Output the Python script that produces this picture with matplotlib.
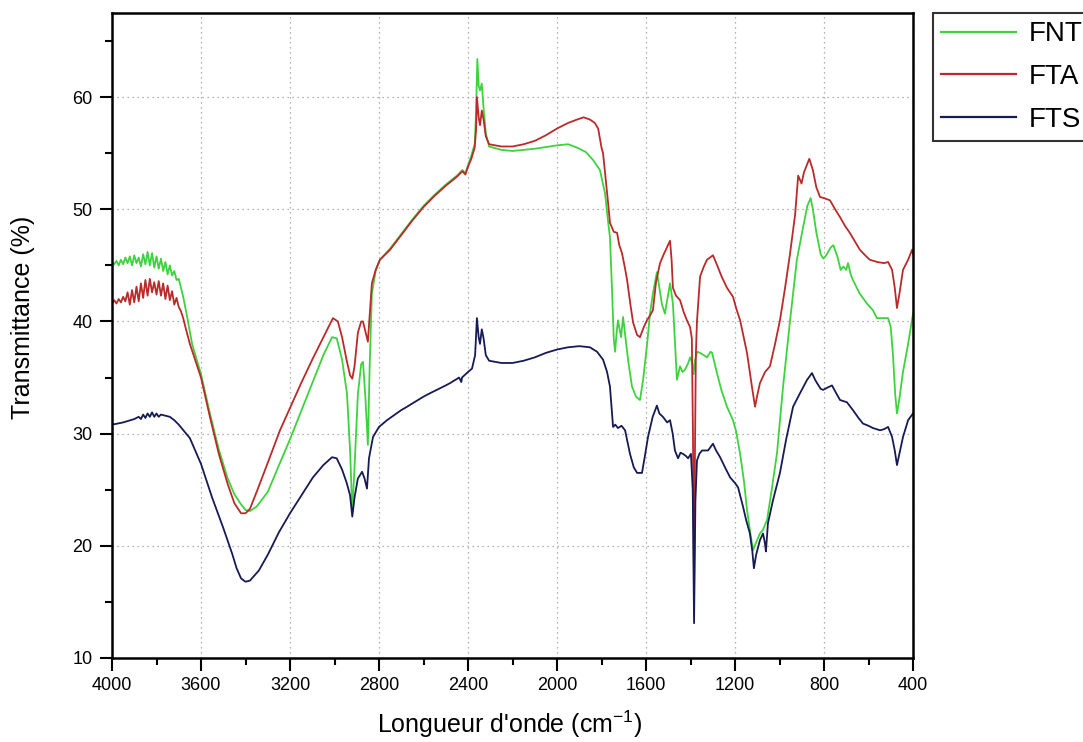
import matplotlib
matplotlib.use('Agg')
import matplotlib.pyplot as plt
from matplotlib.ticker import MultipleLocator

plt.rcParams['font.family'] = ['Liberation Sans', 'DejaVu Sans']
plt.rcParams['mathtext.default'] = 'regular'

# ---------------- data ----------------
fnt_wn = [4000, 3990, 3980, 3970, 3960, 3950, 3940, 3930, 3920, 3910, 3900, 3890, 3880, 3870,
          3860, 3850, 3840, 3830, 3820, 3810, 3800, 3790, 3780, 3770, 3760, 3750, 3740, 3730,
          3720, 3710, 3700, 3690, 3680, 3665, 3640, 3600, 3560, 3520, 3480, 3450, 3420, 3400,
          3380, 3350, 3300, 3245, 3200, 3150, 3100, 3050, 3011, 2990, 2966, 2944, 2930, 2920,
          2910, 2895, 2880, 2872, 2862, 2850, 2842, 2832, 2815, 2796, 2750, 2700, 2650, 2600,
          2550, 2500, 2450, 2425, 2412, 2400, 2385, 2370, 2364, 2358, 2352, 2346, 2338, 2330,
          2320, 2305, 2250, 2200, 2100, 2000, 1950, 1910, 1870, 1838, 1807, 1784, 1771, 1762,
          1753, 1745, 1739, 1732, 1726, 1716, 1712, 1703, 1695, 1680, 1663, 1645, 1627, 1613,
          1595, 1582, 1569, 1551, 1540, 1528, 1515, 1500, 1492, 1479, 1461, 1447, 1436, 1425,
          1410, 1402, 1392, 1386, 1380, 1370, 1357, 1340, 1326, 1310, 1303, 1281, 1260, 1236,
          1209, 1195, 1177, 1160, 1146, 1130, 1119, 1105, 1088, 1075, 1056, 1035, 1011, 984,
          953, 922, 894, 875, 860, 850, 835, 815, 803, 790, 770, 758, 740, 725, 713, 700, 692,
          680, 670, 640, 607, 580, 562, 540, 512, 500, 490, 480, 472, 462, 445, 422, 410, 400]
fnt_t = [45.3, 45.1, 45.4, 45.0, 45.5, 45.1, 45.7, 45.2, 45.8, 45.0, 45.9, 45.2, 45.7, 44.9,
         46.0, 45.1, 46.2, 45.0, 46.1, 44.8, 45.8, 44.7, 45.6, 44.5, 45.3, 44.2, 45.0, 44.1,
         44.5, 43.7, 43.8, 43.0, 42.2, 40.7, 38.0, 35.3, 31.8, 28.6, 26.0, 24.6, 23.7, 23.2,
         23.1, 23.5, 24.8, 27.4, 29.5, 32.0, 34.5, 37.0, 38.6, 38.5, 36.6, 33.6, 28.5, 23.0,
         27.0, 33.5, 36.2, 36.4, 33.5, 29.0, 36.0, 42.5, 44.5, 45.5, 46.5, 47.8, 49.1, 50.3,
         51.3, 52.2, 53.0, 53.5, 53.2, 53.9, 54.8, 55.8, 58.5, 63.4, 61.0, 60.6, 61.2, 59.0,
         56.8, 55.6, 55.3, 55.2, 55.4, 55.7, 55.8, 55.5, 55.1, 54.4, 53.5, 51.4, 49.0, 47.5,
         43.0, 38.5, 37.3, 39.0, 40.1, 39.0, 38.6, 40.4, 39.0, 36.5, 34.2, 33.3, 33.0, 34.8,
         38.0, 40.7, 42.5, 44.4, 43.0, 41.5, 40.7, 42.5, 43.4, 41.6, 34.8, 36.0, 35.5, 35.7,
         36.3, 36.8, 36.3, 35.3, 36.5, 37.3, 37.2, 37.0, 36.8, 37.3, 37.2, 35.4, 33.8, 32.4,
         31.2, 30.2, 28.2, 25.8, 23.2, 21.0, 19.6, 20.3, 21.1, 21.4, 22.3, 25.0, 28.3, 34.2,
         40.0, 45.5, 48.4, 50.3, 51.0, 50.0, 48.0, 46.0, 45.6, 45.9, 46.6, 46.8, 45.8, 44.6,
         44.9, 44.6, 45.2, 44.2, 43.7, 42.5, 41.6, 41.0, 40.3, 40.3, 40.3, 39.5, 37.0, 33.5,
         31.8, 33.0, 35.5, 38.0, 39.5, 40.7]

fta_wn = [4000, 3990, 3980, 3970, 3960, 3950, 3940, 3930, 3920, 3910, 3900, 3890, 3880, 3870,
          3860, 3850, 3840, 3830, 3820, 3810, 3800, 3790, 3780, 3770, 3760, 3750, 3740, 3730,
          3720, 3710, 3700, 3690, 3680, 3670, 3650, 3630, 3600, 3560, 3520, 3480, 3450, 3420,
          3400, 3380, 3350, 3300, 3245, 3200, 3150, 3100, 3050, 3007, 2985, 2966, 2945, 2930,
          2920, 2910, 2895, 2880, 2872, 2862, 2850, 2842, 2832, 2815, 2796, 2750, 2700, 2650,
          2600, 2550, 2500, 2450, 2425, 2412, 2400, 2385, 2370, 2364, 2360, 2352, 2346, 2338,
          2330, 2320, 2305, 2250, 2200, 2150, 2100, 2050, 2000, 1950, 1910, 1880, 1852, 1830,
          1815, 1800, 1793, 1780, 1770, 1762, 1745, 1730, 1720, 1708, 1695, 1685, 1670, 1658,
          1640, 1627, 1610, 1596, 1580, 1569, 1555, 1537, 1520, 1506, 1492, 1485, 1479, 1465,
          1447, 1430, 1416, 1402, 1394, 1389, 1384, 1380, 1376, 1371, 1357, 1340, 1326, 1299,
          1280, 1260, 1236, 1209, 1195, 1177, 1160, 1146, 1124, 1110, 1100, 1088, 1065, 1043,
          1020, 998, 975, 953, 930, 916, 901, 890, 866, 850, 835, 818, 800, 773, 750, 728, 705,
          684, 660, 639, 615, 594, 560, 530, 512, 494, 482, 472, 460, 445, 422, 404, 400]
fta_t = [41.6, 41.9, 41.6, 42.0, 41.7, 42.2, 41.8, 42.6, 41.5, 42.8, 41.7, 43.1, 41.8, 43.4,
         42.1, 43.7, 42.3, 43.8, 42.6, 43.5, 42.4, 43.6, 42.3, 43.4, 42.0, 43.2, 41.9, 42.7,
         41.5, 42.1, 41.3, 40.9, 40.3, 39.5, 38.0, 36.8, 35.0, 31.5, 28.2, 25.5, 23.8, 22.9,
         22.9, 23.3, 24.8, 27.4, 30.3, 32.3, 34.5, 36.6, 38.6, 40.3, 40.0, 38.6, 36.5, 35.2,
         34.9, 36.0, 39.0, 40.0, 40.0, 39.2, 38.2, 40.5, 43.4, 44.6, 45.5, 46.4, 47.7, 49.0,
         50.2, 51.2, 52.1, 52.9, 53.4, 53.1, 53.8, 54.5, 55.5, 57.0, 60.0, 58.2, 57.5, 58.8,
         58.0, 56.5, 55.8, 55.6, 55.6, 55.8, 56.1, 56.6, 57.2, 57.7, 58.0, 58.2, 58.0, 57.7,
         57.2, 55.5, 55.0, 52.5, 50.5, 48.8, 48.0, 47.9, 46.8, 46.1, 44.8, 43.7, 41.5, 39.9,
         38.8, 38.6, 39.5, 40.1, 40.6, 41.0, 43.5, 45.2, 46.0, 46.6, 47.2, 45.5, 43.0, 42.3,
         41.9, 40.8, 40.1, 39.5, 38.5, 30.0, 16.0, 28.0, 37.0, 40.0, 44.0, 44.9, 45.5, 45.9,
         45.0, 44.0, 43.0, 42.2, 41.2, 40.1, 38.5, 37.2, 34.2, 32.4, 33.4, 34.5, 35.5, 36.0,
         38.0, 40.1, 43.0, 46.0, 49.5, 53.0, 52.3, 53.3, 54.5, 53.5, 52.0, 51.1, 51.0, 50.8,
         50.0, 49.3, 48.5, 47.9, 47.1, 46.4, 45.9, 45.5, 45.3, 45.2, 45.3, 44.6, 43.0, 41.2,
         42.6, 44.6, 45.5, 46.4, 46.0]

fts_wn = [4000, 3950, 3900, 3880, 3870, 3860, 3850, 3840, 3830, 3820, 3810, 3800, 3790, 3780,
          3760, 3740, 3720, 3700, 3650, 3600, 3550, 3500, 3460, 3440, 3420, 3400, 3380, 3340,
          3300, 3250, 3200, 3155, 3097, 3050, 3011, 2990, 2966, 2945, 2930, 2920, 2910, 2895,
          2876, 2865, 2854, 2845, 2827, 2800, 2764, 2700, 2674, 2600, 2571, 2500, 2481, 2440,
          2430, 2427, 2400, 2382, 2368, 2360, 2352, 2346, 2338, 2330, 2320, 2305, 2250, 2200,
          2150, 2100, 2050, 2000, 1950, 1900, 1852, 1820, 1793, 1775, 1762, 1748, 1738, 1726,
          1710, 1694, 1672, 1655, 1640, 1618, 1605, 1591, 1570, 1551, 1540, 1524, 1505, 1492,
          1480, 1470, 1456, 1445, 1434, 1420, 1411, 1398, 1390, 1384, 1378, 1371, 1360, 1348,
          1321, 1299, 1285, 1267, 1245, 1222, 1200, 1186, 1164, 1150, 1133, 1122, 1115, 1105,
          1088, 1074, 1066, 1061, 1052, 1030, 998, 970, 939, 908, 876, 854, 840, 831, 815, 804,
          785, 764, 745, 728, 697, 670, 645, 625, 600, 580, 548, 530, 512, 494, 482, 472, 460,
          445, 422, 400]
fts_t = [30.8, 31.0, 31.3, 31.5, 31.3, 31.7, 31.4, 31.8, 31.5, 31.9, 31.5, 31.8, 31.5, 31.7,
         31.6, 31.5, 31.2, 30.8, 29.6, 27.3, 24.3, 21.6, 19.3, 18.0, 17.1, 16.8, 16.9, 17.8,
         19.2, 21.2, 22.9, 24.3, 26.1, 27.2, 27.9, 27.8, 26.8, 25.6, 24.5, 22.6, 24.3, 26.0,
         26.6, 26.0, 25.1, 27.8, 29.7, 30.6, 31.2, 32.1, 32.4, 33.3, 33.6, 34.3, 34.5, 35.0,
         34.6, 35.0, 35.5, 35.8, 37.0, 40.3, 38.6, 38.0, 39.3, 38.5, 37.0, 36.5, 36.3, 36.3,
         36.5, 36.8, 37.2, 37.5, 37.7, 37.8, 37.7, 37.3, 36.6, 35.5, 34.2, 30.6, 30.8, 30.5,
         30.7, 30.3, 28.2, 27.0, 26.5, 26.5, 28.0, 29.7, 31.5, 32.5, 31.8, 31.5, 31.0, 31.2,
         30.0, 28.5, 27.8, 28.3, 28.2, 28.0, 27.8, 28.2, 25.0, 13.1, 24.0, 27.6, 28.2, 28.5,
         28.5, 29.1, 28.5, 27.9, 27.0, 26.1, 25.6, 25.2, 23.5, 22.3, 21.1, 19.5, 18.0, 19.2,
         20.5, 21.1, 20.3, 19.5, 22.0, 24.0, 26.5, 29.5, 32.4, 33.6, 34.8, 35.4, 34.8, 34.5,
         34.0, 33.9, 34.1, 34.3, 33.6, 33.0, 32.8, 32.1, 31.4, 30.9, 30.7, 30.5, 30.3, 30.4,
         30.6, 29.7, 28.5, 27.2, 28.3, 29.7, 31.2, 31.8]

series_labels = ['FNT', 'FTA', 'FTS']
series_colors = ['#3fd23f', '#bb2a2a', '#161a55']
x_ticks = [4000, 3600, 3200, 2800, 2400, 2000, 1600, 1200, 800, 400]
y_ticks = [10, 20, 30, 40, 50, 60]

# ---------------- figure ----------------
W, H = 1083, 742
fig = plt.figure(figsize=(W / 100, H / 100), dpi=100)
ax = fig.add_axes([112 / W, 1 - 658 / H, 801 / W, 645 / H])

for wn, t, lab, col in zip([fnt_wn, fta_wn, fts_wn], [fnt_t, fta_t, fts_t],
                           series_labels, series_colors):
    ax.plot(wn, t, color=col, lw=1.3, label=lab)

ax.set_xlim(4000, 400)
ax.set_ylim(10, 67.5)
ax.set_xticks(x_ticks)
ax.set_yticks(y_ticks)
ax.xaxis.set_minor_locator(MultipleLocator(200))
ax.yaxis.set_minor_locator(MultipleLocator(5))
ax.tick_params(which='major', direction='out', length=9, width=1.5, labelsize=13,
               top=False, right=False, pad=5)
ax.tick_params(which='minor', direction='out', length=5, width=1.5, top=False, right=False)
for s in ax.spines.values():
    s.set_linewidth(1.8)
ax.grid(True, which='major', linestyle=(0, (1, 3)), color='#9a9a9a', lw=0.9)

fig.text(510 / W, 1 - 724 / H, "Longueur d'onde (cm$^{-1}$)", ha='center', va='center',
         fontsize=18)
fig.text(23 / W, 1 - 317 / H, 'Transmittance (%)', ha='center', va='center',
         rotation=90, fontsize=18)

handles, labels = ax.get_legend_handles_labels()
leg = fig.legend(handles, labels, loc='upper left', bbox_to_anchor=(933 / W, 1 - 13 / H),
                 fontsize=20, frameon=True, fancybox=False, borderaxespad=0,
                 borderpad=0.3, handlelength=2.7, handletextpad=0.45, labelspacing=0.6)
leg.get_frame().set_edgecolor('black')
leg.get_frame().set_linewidth(1.5)
for ln in leg.get_lines():
    ln.set_linewidth(1.6)

fig.savefig('out.png', dpi=100)
